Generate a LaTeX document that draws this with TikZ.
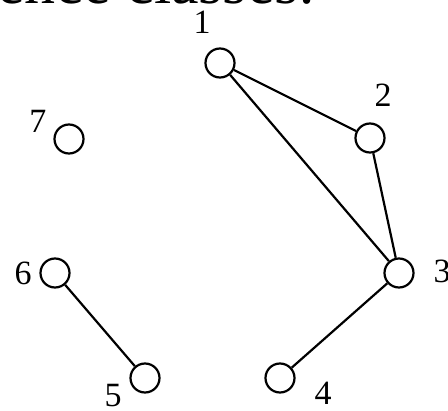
\documentclass[tikz,border=0pt]{standalone}
\usepackage{fontspec}
\setmainfont{Liberation Serif}
\begin{document}
\begin{tikzpicture}[x=1pt,y=-1pt,
  vtx/.style={circle,draw=black,line width=2.2pt,minimum size=29pt,inner sep=0pt},
  lbl/.style={font=\fontsize{34}{34}\selectfont,inner sep=0pt},
  edge/.style={line width=2.2pt}]
\useasboundingbox (0,0) rectangle (448,411);
\node[anchor=base east,inner sep=0pt,font=\fontsize{62}{62}\selectfont] (title) at (316,4) {Equivalence classes:};
\node[vtx] (n1) at (220,63) {};
\node[vtx] (n2) at (370,138) {};
\node[vtx] (n3) at (399,273) {};
\node[vtx] (n4) at (280,378) {};
\node[vtx] (n5) at (145,378) {};
\node[vtx] (n6) at (55,273) {};
\node[vtx] (n7) at (69,139) {};
\node[lbl] (l1) at (202,22) {1};
\node[lbl] (l2) at (383,95) {2};
\node[lbl] (l3) at (442,271) {3};
\node[lbl] (l4) at (323,393) {4};
\node[lbl] (l5) at (113,396) {5};
\node[lbl] (l6) at (23,273) {6};
\node[lbl] (l7) at (38,121) {7};
\draw[edge] (n1) -- (n2);
\draw[edge] (n1) -- (n3);
\draw[edge] (n2) -- (n3);
\draw[edge] (n3) -- (n4);
\draw[edge] (n6) -- (n5);
\end{tikzpicture}
\end{document}
